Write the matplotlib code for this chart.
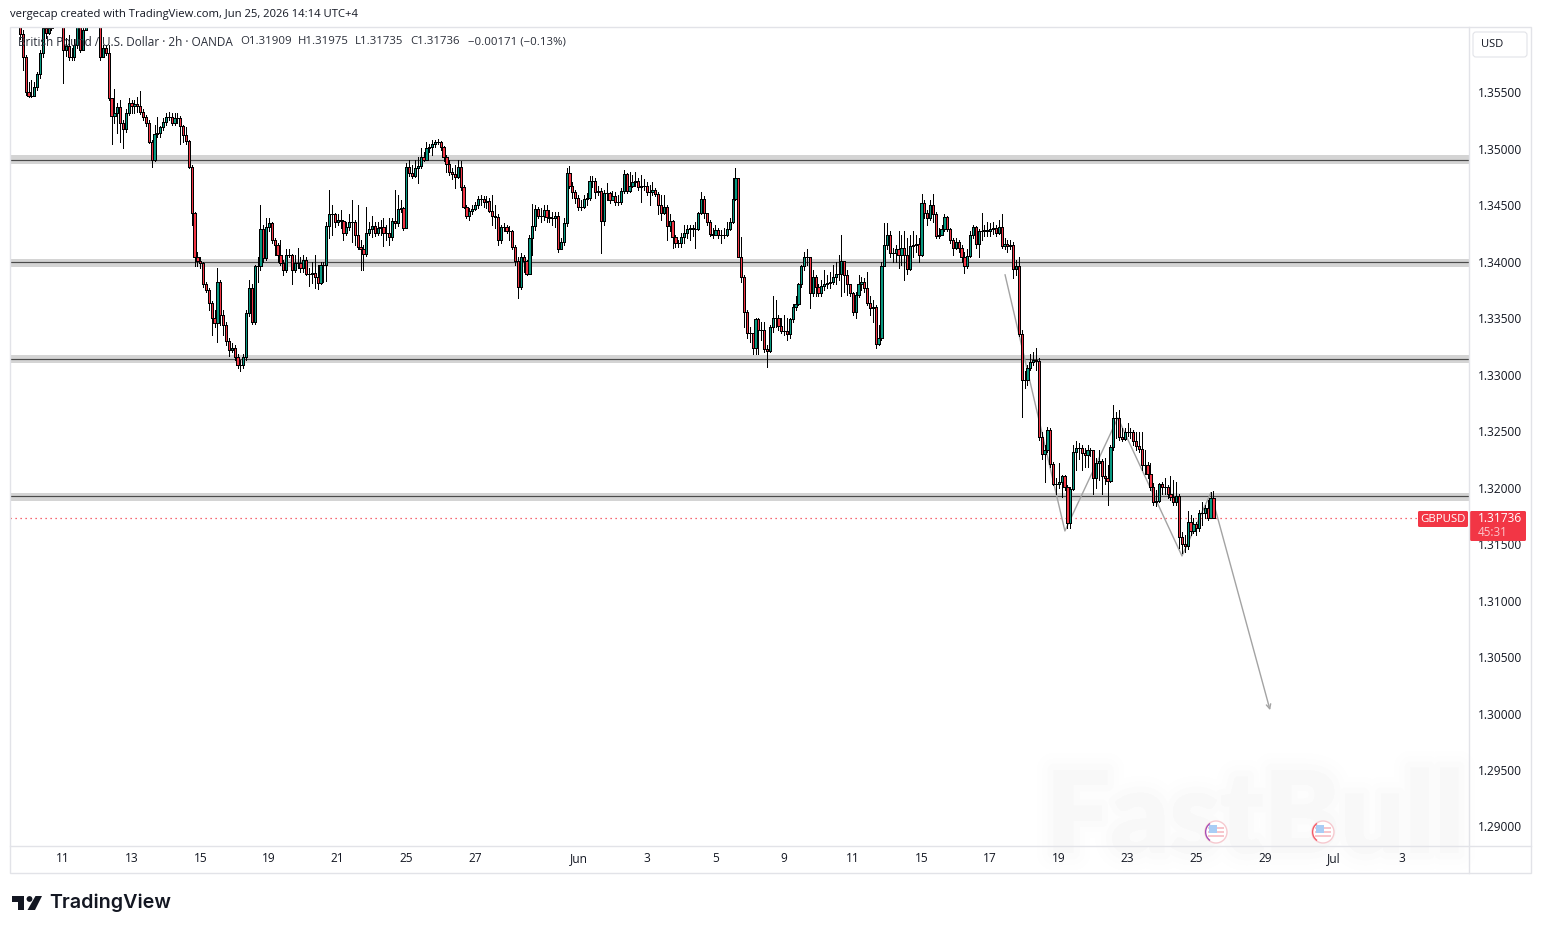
import numpy as np
import matplotlib
matplotlib.use("Agg")
import matplotlib.pyplot as plt
import matplotlib.patheffects as pe
from matplotlib.patches import Circle, Polygon, Rectangle, FancyBboxPatch, Wedge

# GBPUSD 2h bars, prices in 1/10000 units
first_open = 13625
closes = [
    13602, 13581, 13550, 13547, 13547, 13555, 13566, 13585, 13607, 13603, 13607, 13619, 13623, 13619, 13614, 13588,
    13591, 13581, 13581, 13592, 13608, 13588, 13605, 13619, 13623, 13625, 13621, 13619, 13581, 13589, 13585, 13545,
    13529, 13532, 13537, 13523, 13518, 13532, 13541, 13538, 13540, 13538, 13533, 13528, 13523, 13506, 13490, 13513,
    13514, 13519, 13524, 13528, 13528, 13523, 13527, 13527, 13520, 13512, 13507, 13484, 13443, 13404, 13401, 13399,
    13380, 13375, 13364, 13350, 13346, 13382, 13353, 13344, 13330, 13322, 13324, 13316, 13309, 13309, 13316, 13355,
    13377, 13347, 13396, 13396, 13429, 13403, 13431, 13434, 13419, 13415, 13406, 13399, 13393, 13406, 13406, 13393,
    13399, 13399, 13395, 13402, 13389, 13389, 13390, 13387, 13381, 13397, 13397, 13432, 13442, 13442, 13435, 13437,
    13436, 13426, 13431, 13435, 13435, 13424, 13413, 13411, 13407, 13426, 13429, 13432, 13426, 13430, 13431, 13426,
    13426, 13422, 13436, 13434, 13447, 13448, 13430, 13484, 13479, 13476, 13483, 13485, 13493, 13490, 13501, 13502,
    13504, 13506, 13506, 13502, 13493, 13487, 13480, 13478, 13475, 13484, 13466, 13449, 13441, 13445, 13447, 13450,
    13456, 13456, 13453, 13454, 13445, 13441, 13440, 13419, 13431, 13431, 13427, 13427, 13413, 13401, 13378, 13404,
    13401, 13389, 13421, 13432, 13447, 13441, 13441, 13446, 13440, 13439, 13439, 13441, 13411, 13418, 13434, 13479,
    13467, 13462, 13457, 13449, 13449, 13456, 13457, 13472, 13472, 13462, 13463, 13436, 13461, 13461, 13455, 13458,
    13453, 13453, 13463, 13478, 13463, 13467, 13471, 13472, 13466, 13467, 13467, 13462, 13462, 13464, 13460, 13450,
    13443, 13449, 13432, 13436, 13422, 13417, 13417, 13422, 13426, 13429, 13430, 13429, 13429, 13443, 13456, 13443,
    13435, 13425, 13424, 13428, 13424, 13424, 13424, 13429, 13435, 13456, 13474, 13404, 13387, 13356, 13337, 13337,
    13324, 13349, 13340, 13340, 13323, 13321, 13342, 13350, 13350, 13343, 13339, 13339, 13336, 13349, 13360, 13363,
    13380, 13396, 13404, 13404, 13372, 13387, 13378, 13372, 13379, 13380, 13381, 13382, 13387, 13389, 13389, 13401,
    13388, 13380, 13372, 13356, 13371, 13380, 13382, 13377, 13364, 13359, 13360, 13327, 13333, 13396, 13415, 13424,
    13408, 13408, 13411, 13406, 13412, 13406, 13394, 13414, 13415, 13416, 13406, 13452, 13443, 13439, 13450, 13442,
    13423, 13424, 13429, 13440, 13429, 13419, 13412, 13418, 13412, 13404, 13396, 13405, 13424, 13431, 13416, 13427,
    13427, 13428, 13427, 13429, 13430, 13426, 13431, 13414, 13416, 13414, 13415, 13394, 13396, 13336, 13295, 13295,
    13306, 13311, 13313, 13312, 13245, 13230, 13233, 13251, 13221, 13203, 13203, 13205, 13210, 13201, 13169, 13199,
    13232, 13235, 13235, 13231, 13229, 13233, 13233, 13209, 13222, 13224, 13210, 13209, 13206, 13236, 13262, 13262,
    13245, 13243, 13249, 13249, 13249, 13241, 13237, 13234, 13220, 13220, 13212, 13201, 13187, 13188, 13203, 13201,
    13201, 13194, 13192, 13187, 13193, 13156, 13150, 13148, 13170, 13162, 13168, 13164, 13178, 13178, 13182, 13173,
    13190.9, 13173.6,
]
highs = [
    13614, 13605, 13583, 13559, 13561, 13559, 13568, 13588, 13619, 13614, 13616, 13628, 13632, 13628, 13623, 13597,
    13598, 13601, 13589, 13597, 13619, 13614, 13614, 13623, 13628, 13632, 13628, 13628, 13623, 13592, 13592, 13592,
    13545, 13553, 13541, 13543, 13526, 13535, 13545, 13543, 13543, 13546, 13551, 13535, 13530, 13526, 13508, 13521,
    13528, 13520, 13527, 13532, 13533, 13532, 13532, 13532, 13529, 13521, 13519, 13508, 13486, 13444, 13409, 13404,
    13400, 13382, 13377, 13365, 13357, 13395, 13384, 13357, 13347, 13333, 13328, 13326, 13318, 13313, 13318, 13357,
    13384, 13380, 13397, 13404, 13450, 13433, 13439, 13439, 13435, 13421, 13417, 13419, 13402, 13411, 13411, 13407,
    13406, 13412, 13404, 13406, 13404, 13395, 13400, 13406, 13397, 13400, 13400, 13435, 13464, 13450, 13443, 13442,
    13446, 13437, 13435, 13442, 13455, 13437, 13450, 13419, 13415, 13449, 13435, 13441, 13435, 13435, 13437, 13439,
    13433, 13439, 13439, 13464, 13459, 13455, 13449, 13488, 13490, 13486, 13490, 13493, 13501, 13497, 13506, 13504,
    13508, 13508, 13509, 13507, 13503, 13495, 13490, 13483, 13486, 13490, 13489, 13468, 13450, 13448, 13450, 13453,
    13458, 13459, 13458, 13458, 13457, 13459, 13450, 13442, 13433, 13434, 13433, 13432, 13428, 13415, 13404, 13408,
    13406, 13402, 13424, 13451, 13450, 13449, 13448, 13450, 13450, 13446, 13444, 13444, 13444, 13421, 13439, 13483,
    13485, 13471, 13464, 13459, 13455, 13459, 13461, 13476, 13476, 13474, 13467, 13465, 13464, 13470, 13462, 13463,
    13462, 13459, 13465, 13481, 13479, 13480, 13477, 13480, 13474, 13477, 13473, 13471, 13468, 13471, 13465, 13462,
    13459, 13459, 13450, 13442, 13437, 13424, 13419, 13426, 13433, 13433, 13433, 13433, 13435, 13444, 13462, 13458,
    13442, 13437, 13430, 13433, 13430, 13428, 13430, 13435, 13439, 13474, 13483, 13474, 13422, 13388, 13357, 13342,
    13333, 13350, 13350, 13347, 13347, 13326, 13344, 13370, 13366, 13353, 13350, 13353, 13350, 13350, 13363, 13370,
    13381, 13397, 13409, 13411, 13400, 13393, 13388, 13380, 13384, 13393, 13388, 13391, 13397, 13400, 13406, 13424,
    13400, 13393, 13380, 13373, 13373, 13388, 13387, 13386, 13391, 13370, 13366, 13362, 13344, 13400, 13434, 13434,
    13427, 13412, 13415, 13427, 13424, 13427, 13421, 13424, 13427, 13424, 13421, 13460, 13455, 13446, 13455, 13460,
    13444, 13430, 13433, 13442, 13441, 13430, 13421, 13421, 13419, 13415, 13409, 13411, 13427, 13433, 13432, 13429,
    13443, 13433, 13435, 13434, 13435, 13433, 13437, 13442, 13421, 13419, 13419, 13418, 13402, 13404, 13340, 13303,
    13309, 13318, 13320, 13324, 13315, 13249, 13238, 13254, 13253, 13223, 13209, 13222, 13211, 13211, 13202, 13201,
    13238, 13241, 13240, 13238, 13235, 13238, 13235, 13225, 13226, 13233, 13225, 13226, 13220, 13238, 13273, 13267,
    13269, 13253, 13253, 13257, 13253, 13251, 13249, 13249, 13249, 13233, 13223, 13222, 13204, 13198, 13204, 13205,
    13209, 13202, 13210, 13207, 13205, 13194, 13161, 13158, 13179, 13176, 13173, 13170, 13180, 13187, 13185, 13189,
    13196, 13197.5,
]
lows = [
    13597, 13570, 13548, 13546, 13546, 13551, 13552, 13563, 13581, 13598, 13602, 13605, 13616, 13614, 13610, 13558,
    13582, 13579, 13579, 13579, 13589, 13586, 13588, 13605, 13616, 13620, 13616, 13614, 13579, 13583, 13583, 13543,
    13504, 13523, 13514, 13506, 13501, 13515, 13530, 13532, 13532, 13533, 13531, 13526, 13520, 13505, 13484, 13489,
    13511, 13511, 13517, 13521, 13526, 13521, 13521, 13523, 13504, 13506, 13504, 13483, 13433, 13396, 13396, 13395,
    13378, 13373, 13357, 13335, 13342, 13329, 13344, 13335, 13326, 13317, 13320, 13313, 13306, 13303, 13306, 13313,
    13352, 13345, 13345, 13382, 13393, 13400, 13402, 13427, 13417, 13406, 13400, 13397, 13388, 13391, 13404, 13380,
    13391, 13395, 13391, 13391, 13388, 13379, 13381, 13377, 13376, 13380, 13382, 13383, 13421, 13424, 13431, 13433,
    13430, 13419, 13424, 13428, 13418, 13415, 13411, 13393, 13393, 13405, 13424, 13422, 13423, 13424, 13424, 13414,
    13419, 13415, 13419, 13430, 13432, 13444, 13428, 13451, 13476, 13474, 13475, 13470, 13483, 13489, 13490, 13497,
    13495, 13502, 13504, 13499, 13489, 13480, 13477, 13473, 13465, 13474, 13464, 13448, 13439, 13437, 13442, 13446,
    13448, 13450, 13449, 13448, 13444, 13433, 13430, 13415, 13417, 13427, 13426, 13419, 13411, 13397, 13368, 13376,
    13391, 13388, 13391, 13406, 13428, 13439, 13435, 13437, 13435, 13435, 13433, 13431, 13409, 13411, 13415, 13432,
    13465, 13457, 13452, 13446, 13446, 13448, 13450, 13455, 13466, 13457, 13459, 13408, 13433, 13455, 13452, 13455,
    13450, 13450, 13451, 13461, 13461, 13462, 13466, 13467, 13464, 13453, 13464, 13459, 13450, 13459, 13458, 13442,
    13437, 13442, 13419, 13427, 13412, 13413, 13413, 13413, 13417, 13421, 13419, 13423, 13412, 13428, 13442, 13439,
    13433, 13423, 13421, 13424, 13421, 13417, 13421, 13423, 13428, 13434, 13455, 13404, 13382, 13342, 13333, 13329,
    13318, 13318, 13318, 13331, 13320, 13307, 13320, 13338, 13342, 13340, 13337, 13335, 13331, 13333, 13347, 13357,
    13362, 13378, 13393, 13397, 13359, 13370, 13370, 13370, 13370, 13375, 13377, 13377, 13380, 13380, 13384, 13370,
    13373, 13371, 13370, 13353, 13350, 13369, 13375, 13373, 13362, 13353, 13347, 13324, 13326, 13331, 13396, 13411,
    13404, 13400, 13400, 13395, 13397, 13384, 13389, 13393, 13404, 13409, 13400, 13405, 13439, 13433, 13437, 13435,
    13421, 13421, 13424, 13427, 13427, 13417, 13406, 13411, 13409, 13400, 13390, 13395, 13404, 13421, 13412, 13404,
    13419, 13423, 13423, 13423, 13425, 13423, 13425, 13412, 13411, 13409, 13411, 13386, 13388, 13334, 13263, 13288,
    13291, 13304, 13309, 13304, 13242, 13225, 13205, 13232, 13218, 13202, 13194, 13200, 13192, 13198, 13164, 13164,
    13198, 13216, 13225, 13216, 13218, 13218, 13228, 13194, 13200, 13207, 13194, 13203, 13185, 13205, 13233, 13244,
    13242, 13241, 13242, 13246, 13244, 13238, 13233, 13232, 13216, 13212, 13209, 13198, 13185, 13184, 13187, 13194,
    13194, 13191, 13189, 13185, 13185, 13147, 13142, 13143, 13146, 13158, 13160, 13158, 13162, 13167, 13173, 13171,
    13173, 13173.5,
]

# support and resistance zones: (upper, level, lower)
zone_tops = [13494.6, 13402.6, 13317.6, 13195.4]
zone_levels = [13490.5, 13400.0, 13314.0, 13192.7]
zone_bottoms = [13487.0, 13395.5, 13310.5, 13188.6]

# projected path drawn by hand on the chart, bar number and price
path_bars = [344.2, 365.1, 383.6, 406.0, 416.1, 436.8]
path_prices = [13388.5, 13161.7, 13261.8, 13139.6, 13195.4, 13003.0]

price_ticks = [1.29, 1.295, 1.30, 1.305, 1.31, 1.315, 1.32, 1.325, 1.33, 1.335, 1.34, 1.345, 1.35, 1.355]
time_labels = ["11", "13", "15", "19", "21", "25", "27", "Jun", "3", "5", "9", "11", "15", "17", "19", "23", "25", "29", "Jul", "3"]
time_bars = [15.0, 39.0, 63.0, 87.0, 111.0, 135.0, 159.0, 195.3, 219.0, 243.0, 267.0, 291.0, 315.0, 339.0, 363.0, 387.0, 411.0, 435.0, 459.0, 483.0]

GREEN = "#089981"
RED = "#f23645"
FRAME = "#e2e3e8"
TEXT = "#131722"

plt.rcParams["font.family"] = ["Open Sans", "DejaVu Sans"]
W, H = 1541, 933
fig = plt.figure(figsize=(W / 100, H / 100), dpi=100, facecolor="white")

# main price pane
ax = fig.add_axes([10 / W, 1 - 845 / H, 1459 / W, 818 / H])
ax.set_xlim(-3.494, 506.3)
ax.set_ylim(1.28836, 1.36080)
for s in ax.spines.values():
    s.set_visible(False)

c = np.array(closes) / 10000
h = np.array(highs) / 10000
l = np.array(lows) / 10000
o = np.concatenate([[first_open / 10000], c[:-1]])
x = np.arange(len(c))

# soft FastBull watermark behind everything, runs over the time scale too
wm = ax.text(1255 / W, 1 - 820 / H, "FastBull", transform=fig.transFigure, fontsize=82, family="Lato", weight="heavy",
             color="#f8f8f8", ha="center", va="center", zorder=0.5, clip_on=False)
wm.set_path_effects([pe.withStroke(linewidth=24, foreground="#fefefe"),
                     pe.withStroke(linewidth=16, foreground="#fdfdfd"),
                     pe.withStroke(linewidth=9, foreground="#fbfbfb"),
                     pe.Normal()])

for top_edge, lev, bot in zip(zone_tops, zone_levels, zone_bottoms):
    ax.axhspan(bot / 10000, top_edge / 10000, color="#d4d4d4", lw=0, zorder=1)
    ax.axhline(lev / 10000, color="#4a4a4a", lw=0.85, zorder=1.5)

ax.axhline(c[-1], color=RED, lw=0.9, ls=(0, (1, 3)), zorder=2)
ax.plot(path_bars[:-1], np.array(path_prices[:-1]) / 10000, color="#a3a3a3", lw=1.0, zorder=2)
ax.annotate("", xy=(path_bars[-1], path_prices[-1] / 10000), xytext=(path_bars[-2], path_prices[-2] / 10000),
            arrowprops=dict(arrowstyle="->", color="#a3a3a3", lw=1.0, mutation_scale=8, shrinkA=0, shrinkB=0), zorder=2)

colors = [GREEN if b >= a else RED for a, b in zip(o, c)]
ax.vlines(x, l, h, color="black", lw=0.72, zorder=3, antialiased=False)
ax.bar(x, np.abs(c - o), bottom=np.minimum(o, c), width=0.78, color=colors, edgecolor="black", linewidth=0.72, zorder=4, antialiased=False)

ax.yaxis.tick_right()
ax.set_yticks(price_ticks)
ax.set_yticklabels(["%.5f" % p for p in price_ticks])
ax.set_xticks(time_bars)
ax.set_xticklabels(time_labels)
ax.tick_params(axis="y", length=0, pad=6.5, labelsize=8.6, labelcolor=TEXT)
ax.tick_params(axis="x", length=0, pad=5.3, labelsize=8.6, labelcolor=TEXT)

# frame, labels and logos sit on a full size layer in pixel units
top = fig.add_axes([0, 0, 1, 1], zorder=5)
top.set_xlim(0, W)
top.set_ylim(H, 0)
top.axis("off")

top.add_patch(Rectangle((10, 27), 1521, 846, fill=False, ec=FRAME, lw=1.0))
top.plot([10, 1531], [845.5, 845.5], color=FRAME, lw=1.0)
top.plot([1469.5, 1469.5], [27, 873], color=FRAME, lw=1.0)

top.text(10, 14.5, "vergecap created with TradingView.com, Jun 25, 2026 14:14 UTC+4", fontsize=8.1, color=TEXT, va="center")
top.text(18, 42, "British Pound / U.S. Dollar · 2h · OANDA", fontsize=8.5, color="#2a2e39", va="center")
top.text(240, 42, "O1.31909", fontsize=8.2, color="#2a2e39", va="center")
top.text(298, 42, "H1.31975", fontsize=8.2, color="#2a2e39", va="center")
top.text(355, 42, "L1.31735", fontsize=8.2, color="#2a2e39", va="center")
top.text(410, 42, "C1.31736", fontsize=8.2, color="#2a2e39", va="center")
top.text(468, 42, "−0.00171 (−0.13%)", fontsize=8.2, color="#2a2e39", va="center")

top.add_patch(FancyBboxPatch((1473, 32), 54, 25, boxstyle="round,pad=0,rounding_size=3", fc="white", ec=FRAME, lw=0.8))
top.text(1492, 44.5, "USD", fontsize=8, color=TEXT, ha="center", va="center")

# last price tag
top.add_patch(FancyBboxPatch((1418, 511), 50, 16, boxstyle="round,pad=0,rounding_size=1.5", fc=RED, ec="none"))
top.text(1443, 519, "GBPUSD", fontsize=8.2, color="white", ha="center", va="center")
top.add_patch(FancyBboxPatch((1470, 511), 56, 30, boxstyle="round,pad=0,rounding_size=1.5", fc=RED, ec="none"))
top.text(1478, 519, "%.5f" % c[-1], fontsize=8.6, color="white", va="center")
top.text(1478, 533, "45:31", fontsize=8.4, color="#fbc4ca", va="center")

# event markers on the time scale
for cx, arc in [(1216, "#8e24aa"), (1323, "#f23645")]:
    top.add_patch(Circle((cx, 832), 11, fc="white", ec="#f6c9cf", lw=1.0))
    for sy in (827, 831, 835):
        top.add_patch(Rectangle((cx - 8, sy), 16, 2, fc="#f7c6cc", ec="none"))
    top.add_patch(Rectangle((cx - 7, 825), 8, 8, fc="#a9cdf5", ec="none"))
    top.add_patch(Wedge((cx, 832), 11, 125, 235, width=1.3, fc=arc, ec="none", alpha=0.8))

# TradingView wordmark below the frame
logo = "#131722"
top.add_patch(Polygon([(12, 896), (24.5, 896), (24.5, 910), (18.5, 910), (18.5, 901.5), (12, 901.5)], fc=logo, ec="none"))
top.add_patch(Circle((29.5, 899), 2.9, fc=logo, ec="none"))
top.add_patch(Polygon([(35.5, 896), (42, 896), (35, 910), (27.5, 910)], fc=logo, ec="none"))
top.text(49, 903, "TradingView", fontsize=14.2, family="Inter", weight="semibold", color=logo, va="center")

fig.savefig("out.png", dpi=100)
